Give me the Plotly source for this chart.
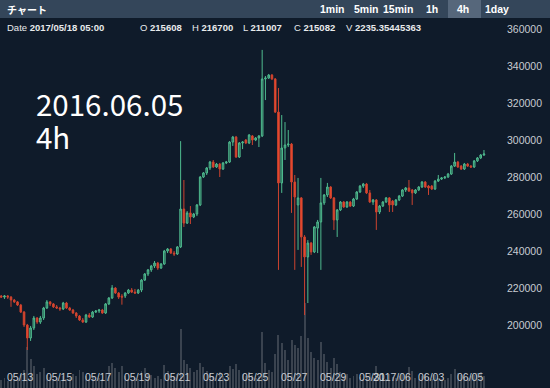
import pandas as pd
import plotly.graph_objects as go

START = "2017-05-12 01:00"
N = 149

OPEN = [215700,215100,215700,215100,213500,212500,210800,207000,200000,193000,
198400,203800,201600,203800,209200,212500,211400,209800,209200,208700,
211900,209200,208100,206500,204900,202700,201600,205400,204300,207000,
207600,208100,206500,211400,214600,220000,217300,215608,215700,217300,
218900,217800,217300,218900,224300,227600,229800,231900,233500,230800,
233000,240000,241100,238900,238400,242200,262700,255100,260600,258400,
260000,264900,280000,282200,284900,288100,285400,287000,284300,287600,
288100,298900,301600,290800,298400,300000,298400,302200,300000,301100,
302200,333000,333500,335100,333000,315100,276800,295700,297300,297800,
277300,264900,268700,247600,236800,244300,239500,252400,255700,266000,
270300,274600,268700,256800,262200,266500,263800,266500,264300,268100,
271900,275100,276200,271400,266500,267600,261100,264300,266500,268700,
267000,264900,267600,269700,273000,274100,273000,271400,273000,274600,
277300,275100,275100,273500,277800,278900,279500,280000,281600,285900,
288100,285900,284300,287000,285900,285400,288700,290300,291900]

HIGH = [216200,216200,216200,215700,214100,213000,211400,207600,200600,199500,
204900,204300,204900,209800,213500,213000,211900,210800,209800,212500,
212500,209800,208700,207000,205400,203800,206000,206500,207600,208100,
208700,208700,211900,215100,221600,220500,217800,216700,217800,219500,
220000,219500,219500,224900,228100,230300,232500,234600,234100,233500,
240600,241600,241600,240000,242700,299400,278400,261600,264300,260600,
265400,280500,282700,285400,288700,289200,287600,287600,288100,288700,
299400,302200,302200,298900,299400,300500,303200,302700,301600,302700,
348700,334600,335700,335700,333500,328100,313500,309700,305400,298400,
281100,279500,269200,248600,245900,244900,253500,256800,279500,270800,
276800,275100,269200,262700,267000,267000,267000,267000,268700,272400,
275700,276800,276800,273000,268100,268100,264900,267000,269200,269200,
267600,268100,270300,273500,274600,278400,273500,273500,275100,277800,
277800,275700,275700,278400,281100,280000,280500,282200,286500,293000,
288700,286500,287600,287600,286500,289200,290800,292400,294600]

LOW = [214600,214100,214100,209800,211900,210300,206500,198900,186500,191400,
197300,200600,200600,202700,208700,210300,209200,208700,207600,208100,
208700,207600,206000,203800,202200,201100,201100,203800,203800,206500,
206500,206000,206000,210800,214100,216800,214100,211007,214600,216800,
217300,216800,216800,217800,223800,226500,228700,230800,229800,230300,
232500,238900,238400,237300,237900,241600,253000,254600,254600,257800,
258900,264300,279500,281100,283800,284900,284900,280000,283800,287000,
287600,296800,290300,290300,295100,297800,297800,297300,299400,296200,
301600,321600,333000,332400,314600,229800,271400,289200,296200,260600,
229800,240600,231400,205400,211900,237900,238900,238900,229800,264900,
269200,268100,251400,247600,261600,263300,263300,263800,263800,267600,
271400,274100,270800,266000,264900,251400,260000,263800,266000,261100,
261100,264300,267000,269200,271900,271900,264900,270800,272400,274100,
274100,270300,273000,273000,277300,278400,278900,279500,281100,285400,
284900,283800,283800,285400,284900,284900,288100,289700,291400]

CLOSE = [215100,215700,215100,213500,212500,210800,207000,200000,193000,198400,
203800,201600,203800,209200,212500,211400,209800,209200,208700,211900,
209200,208100,206500,204900,202700,201600,205400,204300,207000,207600,
208100,206500,211400,214600,220000,217300,215100,215082,217300,218900,
217800,217300,218900,224300,227600,229800,231900,233500,230800,233000,
240000,241100,238900,238400,242200,262700,255100,260600,258400,260000,
264900,280000,282200,284900,288100,285400,287000,284300,287600,288100,
298900,301600,290800,298400,298900,298400,302700,300000,301100,302200,
333000,333500,335100,333000,315100,276800,295700,297300,297800,277300,
269200,268700,247600,236800,244300,239500,253000,255700,266000,270300,
274600,268700,256800,262200,266500,263800,266500,264300,268100,271900,
275100,276200,271400,266500,267600,261100,264300,266500,268700,264900,
264900,267600,269700,273000,274100,272400,271400,273000,274600,277300,
274600,274100,273500,277800,278900,279500,280000,281600,285900,288100,
285400,284300,287000,285900,285400,288700,290300,291900,292400]

VOLUME = [800,1000,700,900,800,1000,1400,1800,4100,2900,
2200,1400,1600,2000,1300,1100,900,1000,800,1200,
900,1000,1400,1200,1800,1600,1200,900,1100,800,
1000,900,1500,2200,2500,2000,1600,2235.35445363,1200,900,
800,1000,900,1700,2000,1400,1300,1000,1200,900,
2300,1700,1200,1100,1400,5900,2800,2400,2000,1600,
1800,2500,2100,1700,1400,1200,1000,1600,1200,900,
2200,1900,2400,1800,1400,1200,1600,1300,1000,1200,
5600,2500,1800,1600,3400,5300,4500,3800,2800,4800,
4300,4000,5200,8500,5000,3600,3000,2800,4600,3400,
2600,2000,3000,2400,1600,1200,1400,1000,1200,1400,
1100,900,1200,1500,1100,2200,1400,1000,900,1400,
1100,1000,1200,1500,1200,2100,1700,1000,900,1200,
1400,1100,900,1300,1000,900,800,1000,1400,1900,
1500,1300,1100,1000,1200,1300,1500,1600,1200]

for arr in (OPEN, HIGH, LOW, CLOSE, VOLUME):
    assert len(arr) == N, len(arr)

X_TICK_VALS = ["2017-05-13", "2017-05-15", "2017-05-17", "2017-05-19", "2017-05-21",
               "2017-05-23", "2017-05-25", "2017-05-27", "2017-05-29", "2017-05-31",
               "2017-06-01", "2017-06-03", "2017-06-05"]
X_TICK_TEXT = ["05/13", "05/15", "05/17", "05/19", "05/21", "05/23", "05/25",
               "05/27", "05/29", "05/31", "2017/06", "06/03", "06/05"]
Y_TICKS = [200000, 220000, 240000, 260000, 280000, 300000, 320000, 340000, 360000]

HEADER = [("Date ", "2017/05/18 05:00", 5), ("O ", "215608", 138), ("H ", "216700", 190),
          ("L ", "211007", 241), ("C ", "215082", 292), ("V ", "2235.35445363", 344)]
BUTTONS = [("1min", 332), ("5min", 366), ("15min", 398), ("1h", 432), ("4h", 463), ("1day", 497)]

dates = pd.date_range(START, periods=N, freq="4h")

BG = "#0f1b2a"
PW = 493.0   # plot width px
PH = 370.0   # plot height px

def px(x):
    return x / PW

def py(y):
    return (388 - y) / PH

fig = go.Figure()
fig.add_trace(go.Bar(
    x=dates, y=VOLUME, yaxis="y", width=4 * 3600 * 1000 * 0.6,
    marker=dict(color="rgba(120,124,130,0.42)", line=dict(width=0)),
    hoverinfo="skip", showlegend=False))
fig.add_trace(go.Candlestick(
    x=dates, open=OPEN, high=HIGH, low=LOW, close=CLOSE, yaxis="y2",
    increasing=dict(line=dict(color="#4fbb8f", width=1), fillcolor="rgba(60,150,112,0.55)"),
    decreasing=dict(line=dict(color="#cc432f", width=1), fillcolor="#f44c2d"),
    whiskerwidth=0, showlegend=False, hoverinfo="skip"))

shapes = [
    dict(type="rect", xref="paper", yref="paper", x0=0, x1=px(550), y0=py(18), y1=py(0),
         fillcolor="#34465a", line=dict(width=0), layer="above"),
    dict(type="rect", xref="paper", yref="paper", x0=px(448), x1=px(481), y0=py(18), y1=py(0),
         fillcolor="#56677b", line=dict(width=0), layer="above"),
]

annotations = [
    dict(text="<b>チャート</b>", x=px(5), y=py(9), xref="paper", yref="paper",
         xanchor="left", yanchor="middle", showarrow=False,
         font=dict(family="Noto Sans CJK JP", size=10, color="#ffffff")),
]
for label, xc in BUTTONS:
    annotations.append(dict(text="<b>%s</b>" % label, x=px(xc), y=py(9), xref="paper", yref="paper",
                            xanchor="center", yanchor="middle", showarrow=False,
                            font=dict(family="Liberation Sans", size=10.5, color="#ffffff")))
for key, val, xl in HEADER:
    annotations.append(dict(text="%s<b>%s</b>" % (key, val), x=px(xl), y=py(28), xref="paper", yref="paper",
                            xanchor="left", yanchor="middle", showarrow=False,
                            font=dict(family="Liberation Sans", size=9.5, color="#e8eaec")))
for val, txt in zip(X_TICK_VALS, X_TICK_TEXT):
    annotations.append(dict(text=txt, x=val, y=py(377), xref="x", yref="paper",
                            xanchor="center", yanchor="middle", showarrow=False,
                            font=dict(family="Liberation Sans", size=10.5, color="#c8ccd2")))
annotations.append(dict(text="2016.06.05", x=px(34), y=py(103), xref="paper", yref="paper",
                        xanchor="left", yanchor="middle", showarrow=False,
                        font=dict(family="Noto Sans CJK JP", size=29.5, color="#ffffff")))
annotations.append(dict(text="4h", x=px(34), y=py(136), xref="paper", yref="paper",
                        xanchor="left", yanchor="middle", showarrow=False,
                        font=dict(family="Noto Sans CJK JP", size=29.5, color="#ffffff")))

fig.update_layout(
    width=550, height=388,
    margin=dict(l=0, r=550 - 493, t=18, b=0),
    paper_bgcolor=BG, plot_bgcolor=BG,
    showlegend=False, hovermode=False, bargap=0,
    font=dict(family="Liberation Sans", color="#c8ccd2", size=10),
    xaxis=dict(type="date", range=["2017-05-11 23:30", "2017-06-06 04:05"],
               rangeslider=dict(visible=False), showgrid=False, zeroline=False, showline=False,
               showticklabels=False, ticks=""),
    yaxis=dict(range=[0, 37000], visible=False, showgrid=False, zeroline=False, fixedrange=True),
    yaxis2=dict(overlaying="y", side="right", range=[165960, 365950], showgrid=False,
                zeroline=False, showline=False, tickvals=Y_TICKS, ticks="",
                tickformat="d", ticklabelstandoff=13, tickfont=dict(size=10.5, color="#c8ccd2")),
    shapes=shapes, annotations=annotations,
)

fig.write_html("out.html", config={"displayModeBar": False},
               post_script="document.body.style.margin='0';document.body.style.overflow='hidden';")
